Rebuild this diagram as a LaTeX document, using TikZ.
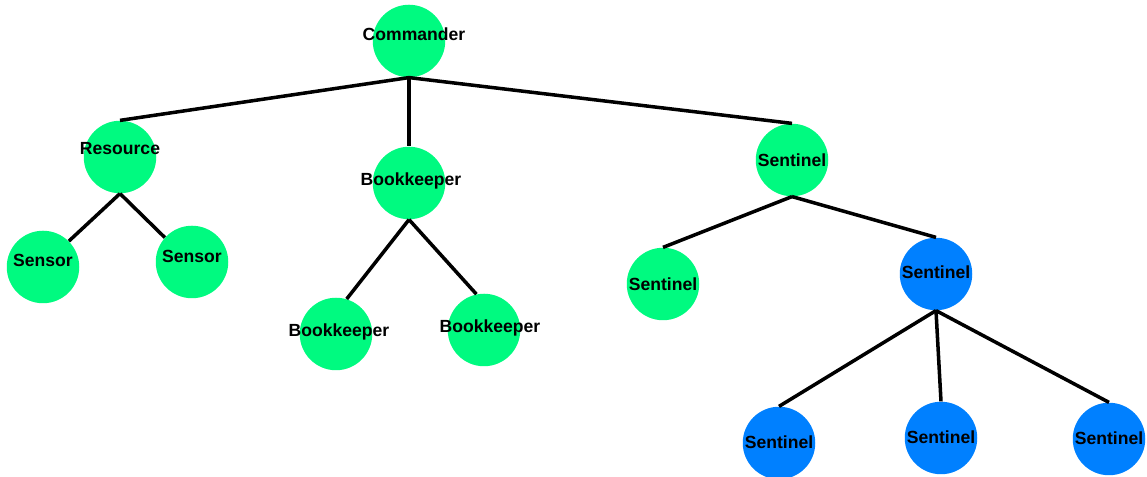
\documentclass[tikz,border=0pt]{standalone}
\usepackage{fontspec}
\setmainfont{Liberation Sans}
\definecolor{leafgreen}{RGB}{0,250,128}
\definecolor{sentblue}{RGB}{0,128,255}
\tikzset{
  agent/.style={circle,draw=none,minimum size=1.45cm,inner sep=0pt},
  agentlabel/.style={font=\bfseries\fontsize{10}{12}\selectfont,inner sep=0pt},
  link/.style={draw=black,line width=2pt}
}
\begin{document}
\begin{tikzpicture}

\useasboundingbox (0,0) rectangle (22.94,9.54);

%commander
\node[agent,fill=leafgreen] (cmd) at (8.18,8.72) {};

%resource branch
\node[agent,fill=leafgreen] (res) at (2.40,6.40) {};
\node[agent,fill=leafgreen] (sen1) at (0.86,4.20) {};
\node[agent,fill=leafgreen] (sen2) at (3.84,4.30) {};

%bookkeeper branch
\node[agent,fill=leafgreen] (bk) at (8.18,5.88) {};
\node[agent,fill=leafgreen] (bk1) at (6.72,2.86) {};
\node[agent,fill=leafgreen] (bk2) at (9.68,2.94) {};

%sentinel branch
\node[agent,fill=leafgreen] (st) at (15.84,6.34) {};
\node[agent,fill=leafgreen] (st1) at (13.26,3.86) {};
\node[agent,fill=sentblue] (st2) at (18.72,4.06) {};
\node[agent,fill=sentblue] (st3) at (15.58,0.68) {};
\node[agent,fill=sentblue] (st4) at (18.82,0.78) {};
\node[agent,fill=sentblue] (st5) at (22.18,0.76) {};

%edges
\path[link] (cmd.south) -- (res.north);
\path[link] (cmd.south) -- (bk.north);
\path[link] (cmd.south) -- (st.north);
\path[link] (res.south) -- (sen1.45);
\path[link] (res.south) -- (sen2.138);
\path[link] (bk.south) -- (bk1.73);
\path[link] (bk.south) -- (bk2.102);
\path[link] (st.south) -- (st1.north);
\path[link] (st.south) -- (st2.north);
\path[link] (st2.south) -- (st3.north);
\path[link] (st2.south) -- (st4.north);
\path[link] (st2.south) -- (st5.north);

%labels
\node[agentlabel] (cmd-t) at ([xshift=0.1cm,yshift=0.14cm]cmd) {Commander};
\node[agentlabel] (res-t) at ([yshift=0.16cm]res) {Resource};
\node[agentlabel] (sen1-t) at ([yshift=0.14cm]sen1) {Sensor};
\node[agentlabel] (sen2-t) at ([yshift=0.12cm]sen2) {Sensor};
\node[agentlabel] (bk-t) at ([xshift=0.04cm,yshift=0.04cm]bk) {Bookkeeper};
\node[agentlabel] (bk1-t) at ([xshift=0.06cm,yshift=0.04cm]bk1) {Bookkeeper};
\node[agentlabel] (bk2-t) at ([xshift=0.12cm,yshift=0.04cm]bk2) {Bookkeeper};
\node[agentlabel] (st-t) at (st) {Sentinel};
\node[agentlabel] (st1-t) at (st1) {Sentinel};
\node[agentlabel] (st2-t) at ([yshift=0.04cm]st2) {Sentinel};
\node[agentlabel] (st3-t) at ([yshift=0.02cm]st3) {Sentinel};
\node[agentlabel] (st4-t) at ([yshift=0.02cm]st4) {Sentinel};
\node[agentlabel] (st5-t) at ([yshift=0.02cm]st5) {Sentinel};

\end{tikzpicture}
\end{document}
